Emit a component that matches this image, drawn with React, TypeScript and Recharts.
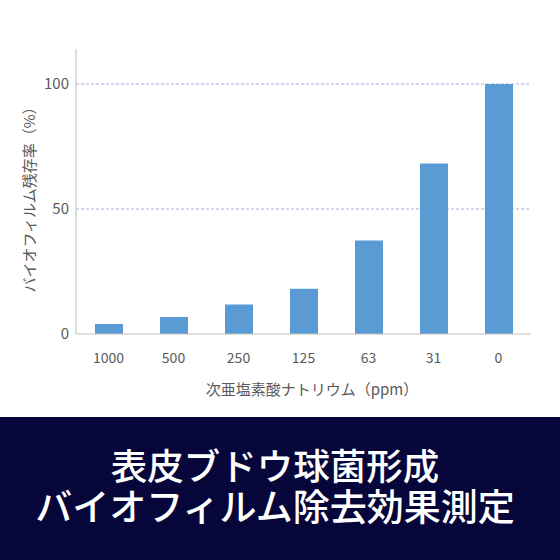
import React from "react";
import { BarChart, Bar, XAxis, YAxis, CartesianGrid, Label } from "recharts";

const categories = ["1000", "500", "250", "125", "63", "31", "0"];
const survivalRates = [4, 6.8, 11.8, 18.1, 37.4, 68.2, 100];
const yTicks = [0, 50, 100];
const gridValues = [50, 100];
const xAxisTitle = "次亜塩素酸ナトリウム（ppm）";
const yAxisTitle = "バイオフィルム残存率（%）";
const titleLines = ["表皮ブドウ球菌形成", "バイオフィルム除去効果測定"];
const titleSizes = [36.5, 37];

const data = categories.map((c, i) => ({ name: c, value: survivalRates[i] }));

const FONT = '"Noto Sans CJK JP", "Noto Sans", sans-serif';

export default function App() {
  return (
    <div
      style={{
        position: "absolute",
        left: 0,
        top: 0,
        width: 560,
        height: 560,
        background: "#ffffff",
        overflow: "hidden",
        fontFamily: FONT,
      }}
    >
      <BarChart
        width={560}
        height={417}
        data={data}
        margin={{ top: 49, right: 29, left: 0, bottom: 13 }}
      >
        <CartesianGrid
          horizontal={true}
          vertical={false}
          horizontalValues={gridValues}
          stroke="#9db4d8"
          strokeDasharray="3 2"
        />
        <XAxis
          dataKey="name"
          height={70}
          tickLine={false}
          tickSize={0}
          tickMargin={19}
          axisLine={{ stroke: "#bfbfbf", strokeWidth: 1 }}
          tick={{ fill: "#595959", fontSize: 14, fontFamily: FONT }}
        >
          <Label
            content={() => (
              <text
                x={312}
                y={388}
                textAnchor="middle"
                dominantBaseline="central"
                fill="#595959"
                fontSize={15}
                fontFamily={FONT}
              >
                {xAxisTitle}
              </text>
            )}
          />
        </XAxis>
        <YAxis
          width={76}
          domain={[0, 114]}
          ticks={yTicks}
          tickLine={false}
          tickSize={0}
          tickMargin={7}
          axisLine={{ stroke: "#bfbfbf", strokeWidth: 1 }}
          tick={{ fill: "#595959", fontSize: 15, fontFamily: FONT }}
        >
          <Label
            content={() => (
              <text
                x={28}
                y={196}
                transform="rotate(-90 28 196)"
                textAnchor="middle"
                dominantBaseline="central"
                fill="#595959"
                fontSize={15}
                fontFamily={FONT}
              >
                {yAxisTitle}
              </text>
            )}
          />
        </YAxis>
        <Bar dataKey="value" fill="#5b9bd5" barSize={28} isAnimationActive={false} />
      </BarChart>
      <div
        style={{
          position: "absolute",
          left: 0,
          top: 417,
          width: 560,
          height: 143,
          background: "#06063a",
          color: "#ffffff",
          fontFamily: FONT,
          fontWeight: 500,
          textAlign: "center",
          boxSizing: "border-box",
          paddingTop: 28,
          paddingRight: 10,
        }}
      >
        {titleLines.map((t, i) => (
          <div
            key={t}
            style={{ fontSize: titleSizes[i], lineHeight: "40px", height: 40, whiteSpace: "nowrap" }}
          >
            {t}
          </div>
        ))}
      </div>
    </div>
  );
}
